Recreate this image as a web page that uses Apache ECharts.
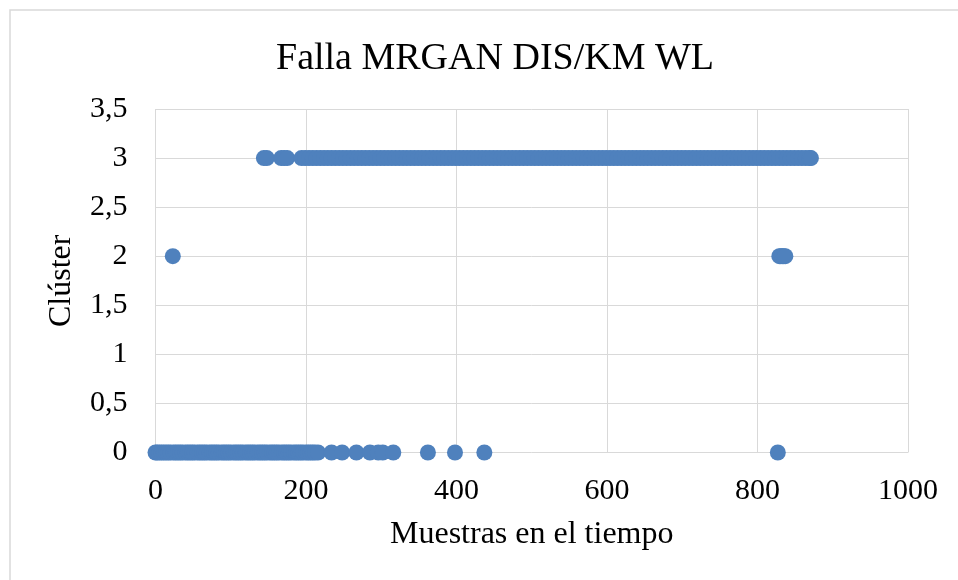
<!DOCTYPE html>
<html>
<head>
<meta charset="utf-8">
<title>Falla MRGAN DIS/KM WL</title>
<script src="https://cdn.jsdelivr.net/npm/echarts@6/dist/echarts.min.js"></script>
<style>
  html, body { margin: 0; padding: 0; background: #ffffff; }
  #chart { width: 958px; height: 580px; }
</style>
</head>
<body>
<div id="chart"></div>
<script>
// Sample indices assigned to each cluster
const cluster0X = [
  0, 2, 5, 8, 11, 14, 17, 20, 24, 27, 30, 33, 36, 40, 43, 46, 49, 52, 56, 59,
  62, 65, 68, 72, 75, 78, 81, 84, 88, 91, 94, 97, 100, 104, 107, 110, 113, 116,
  120, 123, 126, 129, 132, 136, 139, 142, 145, 148, 152, 155, 158, 161, 164, 168,
  171, 174, 177, 180, 184, 187, 190, 193, 196, 200, 203, 206, 209, 212, 216,
  234, 248, 267, 285, 296, 302, 316, 362, 398, 437, 827
];
const cluster2X = [23, 829, 831, 833, 835, 837];
const cluster3X = [
  144, 148, 167, 171, 175,
  194, 199, 204, 209, 214, 219, 224, 229, 234, 239, 244, 249, 254, 259, 264, 269,
  274, 279, 284, 289, 294, 299, 304, 309, 314, 319, 324, 329, 334, 339, 344, 349,
  354, 359, 364, 369, 374, 379, 384, 389, 394, 399, 404, 409, 414, 419, 424, 429,
  434, 439, 444, 449, 454, 459, 464, 469, 474, 479, 484, 489, 494, 499, 504, 509,
  514, 519, 524, 529, 534, 539, 544, 549, 554, 559, 564, 569, 574, 579, 584, 589,
  594, 599, 604, 609, 614, 619, 624, 629, 634, 639, 644, 649, 654, 659, 664, 669,
  674, 679, 684, 689, 694, 699, 704, 709, 714, 719, 724, 729, 734, 739, 744, 749,
  754, 759, 764, 769, 774, 779, 784, 789, 794, 799, 804, 809, 814, 819, 824, 829,
  834, 839, 844, 849, 854, 859, 864, 869, 871
];
const clusterGroups = [
  { cluster: 0, xs: cluster0X },
  { cluster: 2, xs: cluster2X },
  { cluster: 3, xs: cluster3X }
];

const titleText = 'Falla MRGAN DIS/KM WL';
const xAxisName = 'Muestras en el tiempo';
const yAxisName = 'Clúster';

const points = [];
clusterGroups.forEach(g => g.xs.forEach(x => points.push([x, g.cluster])));

const serif = '"Liberation Serif", "Times New Roman", serif';
const gridColor = '#d9d9d9';

const chart = echarts.init(document.getElementById('chart'), null, { renderer: 'canvas' });
chart.setOption({
  backgroundColor: '#ffffff',
  animation: false,
  title: {
    text: titleText,
    left: 271,
    top: 35,
    textStyle: { fontFamily: serif, fontSize: 38, fontWeight: 'normal', color: '#000000' }
  },
  graphic: [{
    type: 'rect',
    shape: { x: 10, y: 10, width: 1000, height: 1000 },
    style: { fill: 'none', stroke: gridColor, lineWidth: 1.5 },
    silent: true
  }],
  grid: { left: 155.5, right: 50, top: 109, bottom: 127.5 },
  xAxis: {
    type: 'value',
    min: 0,
    max: 1000,
    interval: 200,
    name: xAxisName,
    nameLocation: 'middle',
    nameGap: 66,
    nameTextStyle: { fontFamily: serif, fontSize: 32, color: '#000000' },
    axisLine: { show: false },
    axisTick: { show: false },
    axisLabel: {
      fontFamily: serif, fontSize: 30, color: '#000000', margin: 24,
      formatter: v => String(v)
    },
    splitLine: { show: true, lineStyle: { color: gridColor, width: 1 } }
  },
  yAxis: {
    type: 'value',
    min: 0,
    max: 3.5,
    interval: 0.5,
    name: yAxisName,
    nameLocation: 'middle',
    nameGap: 78,
    nameTextStyle: { fontFamily: serif, fontSize: 32, color: '#000000' },
    axisLine: { show: false },
    axisTick: { show: false },
    axisLabel: {
      fontFamily: serif, fontSize: 30, color: '#000000', margin: 28,
      formatter: v => String(v).replace('.', ',')
    },
    splitLine: { show: true, lineStyle: { color: gridColor, width: 1 } }
  },
  series: [{
    type: 'scatter',
    data: points,
    symbol: 'circle',
    symbolSize: 16,
    itemStyle: { color: '#4f81bd', opacity: 1 },
    clip: false
  }]
});
</script>
</body>
</html>
